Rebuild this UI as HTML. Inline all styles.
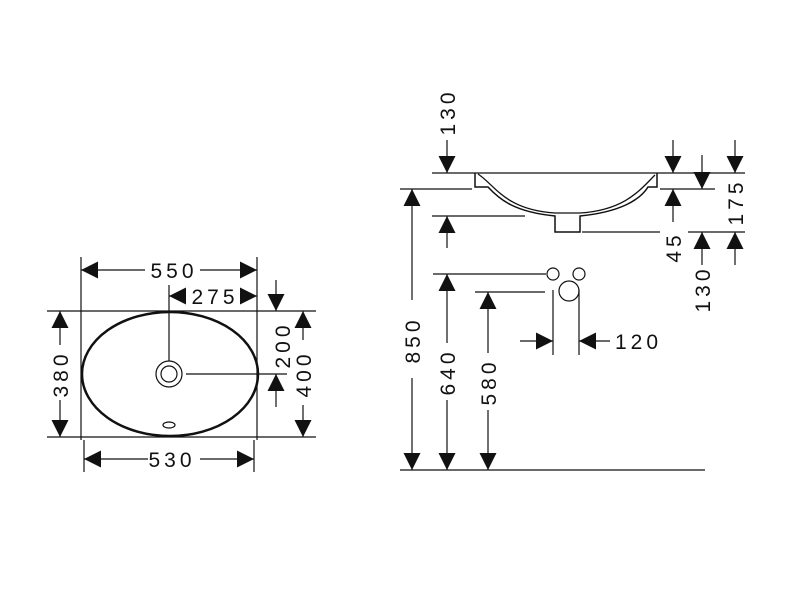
<!DOCTYPE html>
<html><head><meta charset="utf-8"><style>body{margin:0;background:#fff}svg{display:block}text{font-family:"Liberation Sans",sans-serif;font-size:21px;fill:#111;letter-spacing:4px}</style></head><body>
<svg width="800" height="600" viewBox="0 0 800 600" xmlns="http://www.w3.org/2000/svg">
<defs>
<marker id="a" viewBox="0 0 10 10" refX="10" refY="5" markerWidth="17" markerHeight="17" markerUnits="userSpaceOnUse" orient="auto-start-reverse"><path d="M0,0L10,5L0,10Z" fill="#111"/></marker>
</defs>
<g stroke="#111" stroke-width="1.2" fill="none">
<!-- left view extension lines -->
<line x1="81" y1="257" x2="81" y2="440"/><line x1="84" y1="440" x2="84" y2="472"/>
<line x1="257" y1="257" x2="257" y2="440"/><line x1="254" y1="440" x2="254" y2="472"/>
<line x1="47" y1="311" x2="316" y2="311"/><line x1="47" y1="437" x2="316" y2="437"/>
<ellipse cx="170" cy="374" rx="88" ry="62" stroke-width="2.5"/>
<circle cx="169" cy="374" r="13"/><circle cx="169" cy="374" r="8"/>
<ellipse cx="169" cy="425" rx="6" ry="3"/>
<line x1="169" y1="285" x2="169" y2="361"/><line x1="186" y1="374" x2="287" y2="374"/>
<!-- dims left -->
<line x1="81" y1="270" x2="145" y2="270" marker-start="url(#a)"/><line x1="200" y1="270" x2="257" y2="270" marker-end="url(#a)"/>
<line x1="169" y1="296" x2="185" y2="296" marker-start="url(#a)"/><line x1="241" y1="296" x2="257" y2="296" marker-end="url(#a)"/>
<line x1="276" y1="280" x2="276" y2="311" marker-end="url(#a)"/><line x1="276" y1="407" x2="276" y2="374" marker-end="url(#a)"/>
<line x1="303" y1="311" x2="303" y2="340" marker-start="url(#a)"/><line x1="303" y1="405" x2="303" y2="437" marker-end="url(#a)"/>
<line x1="60" y1="311" x2="60" y2="345" marker-start="url(#a)"/><line x1="60" y1="400" x2="60" y2="437" marker-end="url(#a)"/>
<line x1="84" y1="459" x2="148" y2="459" marker-start="url(#a)"/><line x1="200" y1="459" x2="254" y2="459" marker-end="url(#a)"/>
<!-- right view lines -->
<line x1="432" y1="173" x2="745" y2="173"/>
<line x1="400" y1="189" x2="472" y2="189"/><line x1="660" y1="189" x2="715" y2="189"/>
<line x1="432" y1="216" x2="525" y2="216"/>
<line x1="582" y1="232" x2="660" y2="232"/><line x1="688" y1="232" x2="745" y2="232"/>
<line x1="400" y1="470" x2="705" y2="470"/>
<line x1="433" y1="274" x2="546" y2="274"/><line x1="475" y1="292" x2="545" y2="292"/>
<path d="M475,173 L475,187 L488,187 C500,200 515,212 555,216 L555,232 L580,232 L580,216 C620,212 640,200 648,187 L657,187 L657,173" stroke-width="1.5"/>
<path d="M478,174 C495,185 505,210 555,213 L580,213 C625,210 640,190 655,175" stroke-width="1.3"/>
<circle cx="553" cy="274" r="6"/><circle cx="579" cy="274" r="6"/><circle cx="569" cy="291" r="10"/>
<line x1="553" y1="290" x2="553" y2="355"/><line x1="579" y1="290" x2="579" y2="355"/>
<!-- right dims -->
<line x1="447" y1="140" x2="447" y2="173" marker-end="url(#a)"/><line x1="447" y1="248" x2="447" y2="216" marker-end="url(#a)"/>
<line x1="412" y1="189" x2="412" y2="300" marker-start="url(#a)"/><line x1="412" y1="378" x2="412" y2="470" marker-end="url(#a)"/>
<line x1="447" y1="274" x2="447" y2="343" marker-start="url(#a)"/><line x1="447" y1="400" x2="447" y2="470" marker-end="url(#a)"/>
<line x1="488" y1="292" x2="488" y2="353" marker-start="url(#a)"/><line x1="488" y1="410" x2="488" y2="470" marker-end="url(#a)"/>
<line x1="520" y1="341" x2="553" y2="341" marker-end="url(#a)"/><line x1="610" y1="341" x2="579" y2="341" marker-end="url(#a)"/>
<line x1="673" y1="140" x2="673" y2="173" marker-end="url(#a)"/><line x1="673" y1="222" x2="673" y2="189" marker-end="url(#a)"/>
<line x1="702" y1="155" x2="702" y2="189" marker-end="url(#a)"/><line x1="702" y1="265" x2="702" y2="232" marker-end="url(#a)"/>
<line x1="735" y1="140" x2="735" y2="173" marker-end="url(#a)"/><line x1="735" y1="265" x2="735" y2="232" marker-end="url(#a)"/>
</g>
<text x="174" y="278" text-anchor="middle">550</text>
<text x="215" y="304" text-anchor="middle">275</text>
<text x="172" y="467" text-anchor="middle">530</text>
<text transform="translate(290,345) rotate(-90)" text-anchor="middle">200</text>
<text transform="translate(311,374) rotate(-90)" text-anchor="middle">400</text>
<text transform="translate(68,374) rotate(-90)" text-anchor="middle">380</text>
<text transform="translate(455,112) rotate(-90)" text-anchor="middle">130</text>
<text transform="translate(420,340) rotate(-90)" text-anchor="middle">850</text>
<text transform="translate(455,372) rotate(-90)" text-anchor="middle">640</text>
<text transform="translate(496,382) rotate(-90)" text-anchor="middle">580</text>
<text x="615" y="349">120</text>
<text transform="translate(681,247) rotate(-90)" text-anchor="middle">45</text>
<text transform="translate(710,289) rotate(-90)" text-anchor="middle">130</text>
<text transform="translate(743,202) rotate(-90)" text-anchor="middle">175</text>
</svg>
</body></html>
